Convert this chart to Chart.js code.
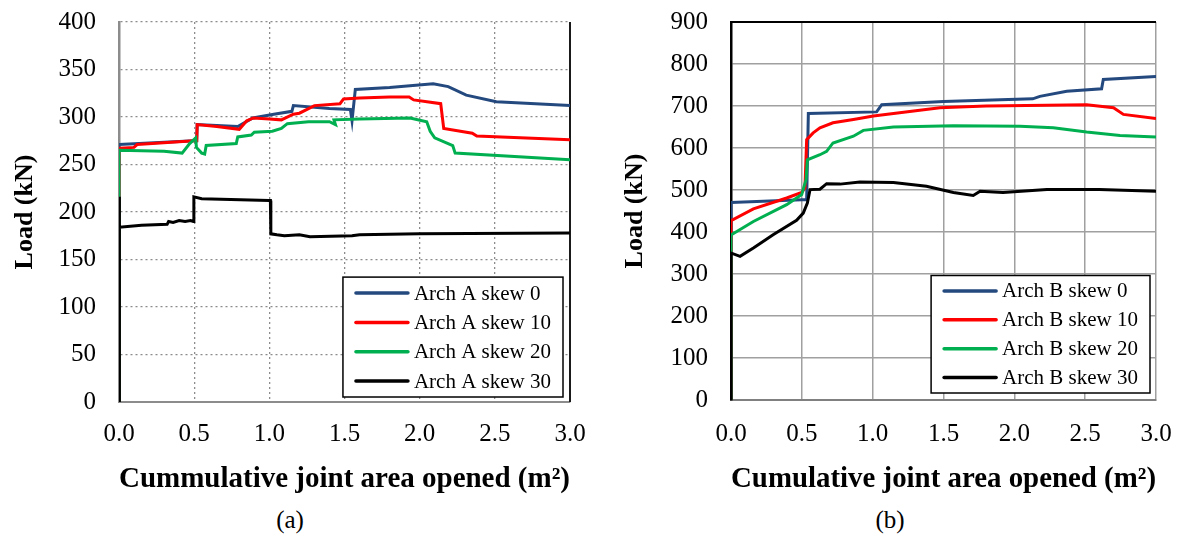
<!DOCTYPE html>
<html>
<head>
<meta charset="utf-8">
<script src="https://cdn.jsdelivr.net/npm/chart.js@4.4.0/dist/chart.umd.min.js"></script>
<style>
  body { margin: 0; background: #fff; width: 1179px; height: 534px; position: relative; overflow: hidden;
         font-family: "Liberation Serif", "Times New Roman", serif; }
  canvas { position: absolute; top: 0; }
  #chartA { left: 0; }
  #chartB { left: 590px; }
  .caption { position: absolute; top: 505px; font-size: 25px; line-height: 30px; transform: translateX(-50%); }
</style>
</head>
<body>
<canvas id="chartA" width="590" height="500"></canvas>
<canvas id="chartB" width="589" height="500"></canvas>
<div class="caption" style="left:290px">(a)</div>
<div class="caption" style="left:890px">(b)</div>
<script>
// Series labels and colours
const labelsA = ['Arch A skew 0', 'Arch A skew 10', 'Arch A skew 20', 'Arch A skew 30'];
const labelsB = ['Arch B skew 0', 'Arch B skew 10', 'Arch B skew 20', 'Arch B skew 30'];
const colors = ['#24497F', '#FF0000', '#00B050', '#000000'];

// Axis ticks
const xTicks = [0, 0.5, 1.0, 1.5, 2.0, 2.5, 3.0];
const yTicksA = [0, 50, 100, 150, 200, 250, 300, 350, 400];
const yTicksB = [0, 100, 200, 300, 400, 500, 600, 700, 800, 900];

// (a) Arch A - cumulative joint area (m2) vs load (kN)
const a0x = [0, 0, 0.50, 0.517, 0.52, 0.79, 0.89, 1.03, 1.15, 1.16, 1.40, 1.539, 1.55, 1.572, 1.80, 2.09, 2.19, 2.31, 2.51, 3.0];
const a0y = [0, 271, 275, 275, 292, 290, 299, 303, 306, 312, 309, 308, 296, 329, 331, 335, 332, 323, 316, 312];
const a10x = [0, 0, 0.10, 0.12, 0.50, 0.517, 0.52, 0.65, 0.80, 0.85, 0.894, 1.0, 1.08, 1.16, 1.20, 1.30, 1.47, 1.494, 1.60, 1.80, 1.93, 1.96, 2.14, 2.16, 2.35, 2.38, 3.0];
const a10y = [0, 267, 268, 271, 275, 275, 292, 290, 287, 296, 299, 298, 297, 303, 304, 312, 314, 319, 320, 321, 321, 318, 314, 288, 283, 280, 276];
const a20x = [0, 0, 0, 0.30, 0.42, 0.47, 0.51, 0.515, 0.55, 0.57, 0.58, 0.78, 0.79, 0.88, 0.90, 1.02, 1.08, 1.12, 1.26, 1.40, 1.44, 1.43, 1.60, 1.936, 2.047, 2.07, 2.10, 2.22, 2.236, 3.0];
const a20y = [0, 216, 265, 264, 262, 272, 278, 268, 262, 261, 270, 272, 279, 281, 284, 285, 288, 293, 295, 295, 292, 297, 298, 299, 295, 285, 278, 270, 262, 255];
const a30x = [0, 0, 0.005, 0.15, 0.32, 0.33, 0.36, 0.40, 0.44, 0.476, 0.495, 0.498, 0.55, 1.0, 1.007, 1.01, 1.05, 1.10, 1.20, 1.27, 1.55, 1.60, 2.0, 3.0];
const a30y = [0, 216, 184, 186, 187, 190, 189, 191, 190, 191, 190, 216, 214, 212, 212, 177, 176, 175, 176, 174, 175, 176, 177, 178];

// (b) Arch B
const b0x = [0, 0, 0.499, 0.534, 0.546, 1.028, 1.064, 1.5, 2.13, 2.18, 2.37, 2.616, 2.628, 3.0];
const b0y = [0, 470, 477, 477, 682, 686, 703, 711, 717, 723, 735, 741, 763, 770];
const b10x = [0, 0, 0.158, 0.393, 0.499, 0.522, 0.534, 0.58, 0.628, 0.72, 0.864, 1.005, 1.19, 1.475, 1.8, 2.51, 2.7, 2.77, 3.0];
const b10y = [0, 427, 455, 481, 494, 505, 620, 636, 648, 660, 668, 676, 684, 696, 700, 703, 696, 680, 670];
const b20x = [0, 0, 0.158, 0.393, 0.499, 0.53, 0.539, 0.628, 0.675, 0.72, 0.864, 0.934, 1.146, 1.57, 2.04, 2.275, 2.51, 2.746, 3.0];
const b20y = [0, 393, 425, 465, 489, 525, 572, 584, 592, 612, 628, 642, 650, 653, 652, 648, 638, 630, 626];
const b30x = [0, 0, 0.064, 0.158, 0.3, 0.463, 0.51, 0.539, 0.558, 0.628, 0.675, 0.77, 0.91, 1.146, 1.38, 1.57, 1.71, 1.758, 1.92, 2.23, 2.6, 3.0];
const b30y = [0, 350, 342, 362, 394, 428, 445, 469, 501, 502, 515, 514, 519, 518, 509, 494, 487, 497, 494, 501, 501, 497];

const serif = '"Liberation Serif", "Times New Roman", serif';

const toPoints = (xs, ys) => xs.map((x, i) => ({ x: x, y: ys[i] }));

// Legend drawn as a framed box inside the plot area (bottom right)
const legendBox = {
  id: 'legendBox',
  afterDraw(chart, args, opts) {
    const { ctx, chartArea } = chart;
    const sets = chart.data.datasets;
    ctx.save();
    ctx.font = '21px ' + serif;
    const textW = Math.max(...sets.map(d => ctx.measureText(d.label).width));
    const w = 13 + 52 + 6 + textW + 12;
    const h = opts.pad * 2 + opts.rowH * (sets.length - 1);
    const x0 = chartArea.right - opts.right - w;
    const y0 = chartArea.bottom - opts.bottom - h;
    ctx.fillStyle = '#fff';
    ctx.fillRect(x0, y0, w, h);
    ctx.strokeStyle = '#000';
    ctx.lineWidth = 1.5;
    ctx.strokeRect(x0, y0, w, h);
    sets.forEach((d, i) => {
      const y = y0 + opts.pad + i * opts.rowH;
      ctx.strokeStyle = d.borderColor;
      ctx.lineWidth = 3.5;
      ctx.lineCap = 'round';
      ctx.beginPath();
      ctx.moveTo(x0 + 13, y);
      ctx.lineTo(x0 + 65, y);
      ctx.stroke();
      ctx.fillStyle = '#000';
      ctx.textBaseline = 'middle';
      ctx.fillText(d.label, x0 + 71, y + 1);
    });
    ctx.restore();
  }
};

// Extra frame lines around the plot area
const frameLines = {
  id: 'frameLines',
  beforeDatasetsDraw(chart, args, opts) {
    const { ctx, chartArea } = chart;
    ctx.save();
    ctx.strokeStyle = opts.color;
    ctx.lineWidth = 2;
    ctx.beginPath();
    if (opts.right) {
      ctx.moveTo(chartArea.right, chartArea.top);
      ctx.lineTo(chartArea.right, chartArea.bottom);
    }
    if (opts.top) {
      ctx.moveTo(chartArea.left, chartArea.top);
      ctx.lineTo(chartArea.right, chartArea.top);
    }
    ctx.stroke();
    ctx.restore();
  }
};

const makeChart = (id, labels, series, yTicks, cfg) => {
  const datasets = series.map((s, i) => ({
    label: labels[i],
    data: toPoints(s[0], s[1]),
    borderColor: colors[i],
    backgroundColor: colors[i],
    borderWidth: 3,
    pointRadius: 0,
    tension: 0,
    order: series.length - i // later series on top, like the original
  }));

  return new Chart(document.getElementById(id), {
    type: 'line',
    data: { datasets: datasets },
    options: {
      responsive: false,
      animation: false,
      layout: { padding: { top: 22, right: cfg.padRight, left: 0, bottom: 0 } },
      plugins: {
        legend: { display: false },
        tooltip: { enabled: false },
        legendBox: cfg.legend,
        frameLines: cfg.frame
      },
      scales: {
        x: {
          type: 'linear',
          min: xTicks[0],
          max: xTicks[xTicks.length - 1],
          afterBuildTicks: (scale) => { scale.ticks = xTicks.map(v => ({ value: v })); },
          // fixed axis size, and no extra room for label overflow: layout padding decides
          afterFit: (scale) => {
            scale.height = cfg.xHeight;
            scale.paddingLeft = 0;
            scale.paddingRight = 0;
          },
          grid: { color: cfg.gridColor, lineWidth: cfg.gridWidth, drawTicks: false },
          border: { color: cfg.xBorder, width: 2, dash: cfg.dash },
          ticks: {
            padding: cfg.xTickPad,
            color: '#000',
            font: { family: serif, size: 25 },
            callback: (v) => Number(v).toFixed(1)
          },
          title: {
            display: true,
            text: cfg.xTitle,
            color: '#000',
            font: { family: serif, size: 29, weight: 'bold' },
            padding: { top: 0, bottom: 3 }
          }
        },
        y: {
          min: yTicks[0],
          max: yTicks[yTicks.length - 1],
          afterBuildTicks: (scale) => { scale.ticks = yTicks.map(v => ({ value: v })); },
          afterFit: (scale) => {
            scale.width = cfg.yWidth;
            scale.paddingTop = 0;
            scale.paddingBottom = 0;
          },
          grid: { color: cfg.gridColor, lineWidth: cfg.gridWidth, drawTicks: false },
          border: { color: cfg.yBorder, width: 2.5, dash: cfg.dash },
          ticks: {
            padding: 23,
            color: '#000',
            font: { family: serif, size: 25 }
          },
          title: {
            display: true,
            text: 'Load (kN)',
            color: '#000',
            font: { family: serif, size: 26, weight: 'bold' },
            padding: { top: cfg.yTitlePad, bottom: 0 }
          }
        }
      }
    },
    plugins: [legendBox, frameLines]
  });
};

document.addEventListener('DOMContentLoaded', () => {
  makeChart('chartA', labelsA,
    [[a0x, a0y], [a10x, a10y], [a20x, a20y], [a30x, a30y]],
    yTicksA, {
      padRight: 20, xHeight: 98, yWidth: 119, xTickPad: 17, yTitlePad: 10,
      gridColor: '#8c8c8c', gridWidth: 1.3, dash: [2, 3],
      xBorder: '#8c8c8c', yBorder: '#8c8c8c',
      xTitle: 'Cummulative joint area opened (m²)',
      legend: { right: 7, bottom: 5, rowH: 29.3, pad: 16 },
      frame: { color: '#1a1a1a', right: true, top: false }
    });

  makeChart('chartB', labelsB,
    [[b0x, b0y], [b10x, b10y], [b20x, b20y], [b30x, b30y]],
    yTicksB, {
      padRight: 23, xHeight: 100, yWidth: 141, xTickPad: 19, yTitlePad: 30,
      gridColor: '#a0a0a0', gridWidth: 1.5, dash: [],
      xBorder: '#808080', yBorder: '#000000',
      xTitle: 'Cumulative joint area opened (m²)',
      legend: { right: 6, bottom: 7, rowH: 28.9, pad: 15.4 },
      frame: { color: '#000000', right: false, top: true }
    });
});
</script>
</body>
</html>
